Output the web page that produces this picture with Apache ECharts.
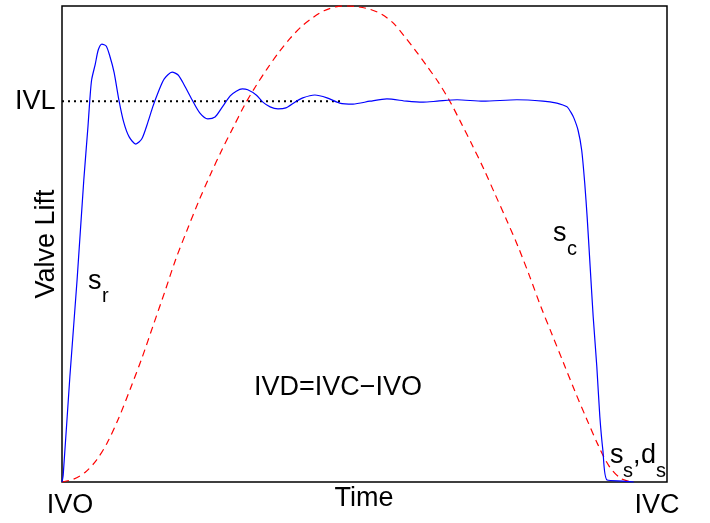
<!DOCTYPE html>
<html>
<head>
<meta charset="utf-8">
<script src="https://cdn.jsdelivr.net/npm/echarts@6/dist/echarts.min.js"></script>
<style>
html,body{margin:0;padding:0;background:#fff;}
#chart{width:710px;height:523px;}
</style>
</head>
<body>
<div id="chart"></div>
<script>
// Valve lift traces (time 0..100, lift 0..100, IVL = 80)
var blueTime = [0,0.2,1.3,2.5,3.6,4.3,4.6,4.9,5.5,6.0,6.6,7.3,7.9,8.6,9.4,10.2,11.1,12.2,13.2,14.2,15.0,15.9,16.9,18.2,19.2,20.2,21.5,22.8,24.1,25.3,26.4,27.8,28.8,29.8,30.7,32.1,33.2,34.4,35.7,37.0,38.5,39.8,41.8,43.8,45.9,48.1,50.9,53.7,57.0,59.7,62.0,65.3,69.6,75.2,79.5,81.8,82.8,83.5,84.1,84.6,85.3,85.9,86.4,86.8,87.3,87.8,88.4,88.9,89.4,90.1,92.7,94.5];
var blueLift = [0,1.5,22.1,42.6,63.4,74.8,80.3,84.5,87.8,90.8,92.0,91.6,89.5,86.1,80.3,75.6,72.5,71.0,72.1,75.6,78.8,81.9,84.7,86.1,85.5,83.4,80.3,77.5,76.3,76.7,78.6,81.1,82.1,82.6,82.4,81.3,79.8,78.8,78.4,78.6,79.8,80.7,81.3,80.7,79.6,79.4,80.0,80.5,80.0,79.8,80.0,80.3,80.0,80.3,80.0,79.6,79.2,78.8,77.7,76.5,73.9,69.7,62.8,55.7,45.2,34.7,24.2,13.7,6.7,0.4,0.2,0];
var redTime = [0,1.9,3.8,5.7,7.5,9.4,11.3,13.2,15.1,17.0,18.8,20.7,22.6,24.5,26.4,28.3,30.1,32.0,33.9,35.8,37.7,39.6,41.5,43.3,45.2,47.1,49.0,50.9,52.8,54.6,56.5,58.4,60.3,62.2,64.1,65.9,67.8,69.7,71.6,73.5,75.4,77.3,79.1,81.0,82.9,84.8,86.7,88.6,90.4,92.3,94.2];
var redLift = [0,0.6,2.0,4.6,8.3,13.5,19.6,26.0,33.0,40.0,46.8,53.0,59.0,64.5,69.7,74.5,79.0,83.1,86.8,90.2,93.2,95.7,97.6,99.0,99.8,100,99.8,99.3,98.3,96.6,93.8,90.7,87.4,84.0,80.0,75.6,70.8,65.8,60.4,55.0,49.4,43.2,37.0,31.0,25.0,19.0,13.3,7.8,3.4,0.8,0];
var ivlTime = [0,46.4];
var ivlLift = [80,80];

function pairs(xs, ys){ return xs.map(function(x,i){ return [x, ys[i]]; }); }

var FONT = "'Liberation Sans', Arial, Helvetica, sans-serif";
function txt(t, x, y, size, align, rot){
  var o = {type:'text', x:x, y:y, z:100,
    style:{text:t, font: size + 'px ' + FONT, fill:'#000', textAlign: align || 'left', textVerticalAlign:'middle'}};
  if (rot) o.rotation = rot;
  return o;
}

var chart = echarts.init(document.getElementById('chart'), null, {renderer:'canvas'});
chart.setOption({
  animation:false,
  backgroundColor:'#fff',
  grid:{left:62, top:6, right:43, bottom:41, show:true, borderColor:'#000', borderWidth:1.5, backgroundColor:'transparent'},
  xAxis:{type:'value', min:0, max:100, axisLine:{show:false}, axisTick:{show:false}, axisLabel:{show:false}, splitLine:{show:false}},
  yAxis:{type:'value', min:0, max:100, axisLine:{show:false}, axisTick:{show:false}, axisLabel:{show:false}, splitLine:{show:false}},
  series:[
    {type:'line', data:pairs(redTime, redLift), symbol:'none', smooth:0.3, clip:false,
     lineStyle:{color:'#ff0000', width:1.2, type:[7,5]}},
    {type:'line', data:pairs(ivlTime, ivlLift), symbol:'none', clip:false,
     lineStyle:{color:'#000', width:2, type:[2,4]}},
    {type:'line', data:pairs(blueTime, blueLift), symbol:'none', smooth:0.25, clip:false,
     lineStyle:{color:'#0000ff', width:1.2}}
  ],
  graphic:[
    txt('IVL', 15, 102, 27, 'left'),
    txt('Valve Lift', 46.5, 244, 27, 'center', Math.PI/2),
    txt('s', 88, 282, 27, 'left'),
    txt('r', 102, 296, 20, 'left'),
    txt('s', 553, 234, 27, 'left'),
    txt('c', 567, 249, 20, 'left'),
    txt('s', 610, 456, 27, 'left'),
    txt('s', 623, 471, 20, 'left'),
    txt(',', 633, 456, 27, 'left'),
    txt('d', 641, 456, 27, 'left'),
    txt('s', 656, 471, 20, 'left'),
    txt('IVD=IVC\u2212IVO', 338, 388, 27, 'center'),
    txt('Time', 364, 499, 27, 'center'),
    txt('IVO', 70, 506, 27, 'center'),
    txt('IVC', 657, 506, 27, 'center')
  ]
});
</script>
</body>
</html>
